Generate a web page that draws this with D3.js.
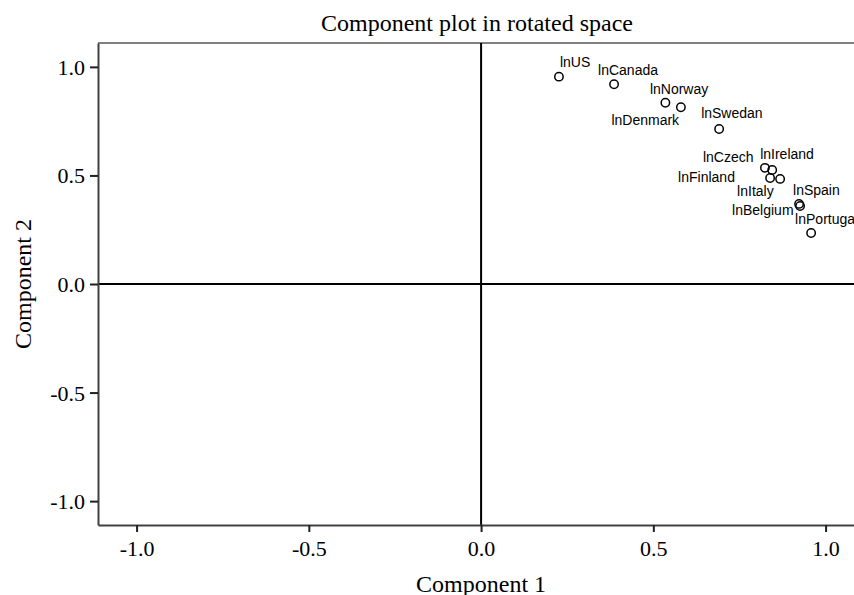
<!DOCTYPE html>
<html>
<head>
<meta charset="utf-8">
<script src="https://cdn.jsdelivr.net/npm/d3@7"></script>
<style>
  html, body { margin: 0; padding: 0; background: #fff; overflow: hidden; }
  svg { display: block; }
</style>
</head>
<body>
<svg id="chart" width="854" height="595"></svg>
<script>
// ---- data ----
const variables = ["lnUS", "lnCanada", "lnNorway", "lnDenmark", "lnSwedan", "lnCzech",
                   "lnIreland", "lnFinland", "lnItaly", "lnSpain", "lnBelgium", "lnPortugal"];
const component1 = [0.226, 0.386, 0.580, 0.535, 0.691, 0.824, 0.845, 0.839, 0.868, 0.923, 0.926, 0.958];
const component2 = [0.955, 0.920, 0.814, 0.835, 0.714, 0.535, 0.525, 0.488, 0.484, 0.369, 0.359, 0.235];
const xTicks = [-1.0, -0.5, 0.0, 0.5, 1.0];
const yTicks = [-1.0, -0.5, 0.0, 0.5, 1.0];
const titleText = "Component plot in rotated space";
const xTitle = "Component 1";
const yTitle = "Component 2";

// ---- layout (label placement offsets, px) ----
const labelOffsets = [
  [1, -10], [-16, -9], [-31, -13], [-54, 22], [-18, -11], [-62, -6],
  [-12, -11], [-92, 4], [-43, 17], [-6, -9], [-68, 9], [-16, -9]
];

(function () {
const svg = d3.select("#chart");
const pLeft = 98, pTop = 43, pBottom = 525;
const x = d3.scaleLinear().domain([-1.112, 1.112]).range([pLeft, pLeft + 2.224 * 344.5]);
const y = d3.scaleLinear().domain([-1.11, 1.11]).range([pBottom, pTop]);
const pRight = x.range()[1];

// top / right border
svg.append("line").attr("x1", pLeft).attr("x2", pRight).attr("y1", pTop).attr("y2", pTop)
  .attr("stroke", "#808080").attr("stroke-width", 2);
svg.append("line").attr("x1", pRight).attr("x2", pRight).attr("y1", pTop).attr("y2", pBottom)
  .attr("stroke", "#808080").attr("stroke-width", 2);

// zero reference lines
svg.append("line").attr("x1", x(0)).attr("x2", x(0)).attr("y1", pTop).attr("y2", pBottom)
  .attr("stroke", "#000").attr("stroke-width", 2);
svg.append("line").attr("x1", pLeft).attr("x2", pRight).attr("y1", y(0)).attr("y2", y(0))
  .attr("stroke", "#000").attr("stroke-width", 2);

// axes
const fmt = d => d.toFixed(1);
const xAxis = svg.append("g").attr("transform", `translate(0,${pBottom})`)
  .call(d3.axisBottom(x).tickValues(xTicks).tickFormat(fmt).tickSizeOuter(0).tickSizeInner(7).tickPadding(7));
const yAxis = svg.append("g").attr("transform", `translate(${pLeft},0)`)
  .call(d3.axisLeft(y).tickValues(yTicks).tickFormat(fmt).tickSizeOuter(0).tickSizeInner(8).tickPadding(5));
[xAxis, yAxis].forEach(g => {
  g.select(".domain").attr("stroke", "#404040").attr("stroke-width", 2);
  g.selectAll(".tick line").attr("stroke", "#202020").attr("stroke-width", 2);
  g.selectAll(".tick text").attr("fill", "#000")
    .style("font-family", "'Liberation Serif', 'Times New Roman', serif").style("font-size", "22px");
});
xAxis.selectAll(".tick text").attr("dy", "0.75em");
yAxis.selectAll(".tick text").attr("dy", "0.34em");

// points
const pts = variables.map((v, i) => ({ name: v, c1: component1[i], c2: component2[i], off: labelOffsets[i] }));
svg.append("g").selectAll("circle").data(pts).join("circle")
  .attr("cx", d => x(d.c1)).attr("cy", d => y(d.c2)).attr("r", 4.2)
  .attr("fill", "none").attr("stroke", "#000").attr("stroke-width", 1.5);
svg.append("g").selectAll("text").data(pts).join("text")
  .attr("x", d => x(d.c1) + d.off[0]).attr("y", d => y(d.c2) + d.off[1])
  .style("font-family", "'Liberation Sans', Arial, sans-serif").style("font-size", "14px")
  .attr("fill", "#000").text(d => d.name);

// titles
svg.append("text").attr("x", 477).attr("y", 31).attr("text-anchor", "middle")
  .style("font-family", "'Liberation Serif', 'Times New Roman', serif").style("font-size", "24px")
  .text(titleText);
svg.append("text").attr("x", x(0)).attr("y", 592).attr("text-anchor", "middle")
  .style("font-family", "'Liberation Serif', 'Times New Roman', serif").style("font-size", "24px")
  .text(xTitle);
svg.append("text").attr("transform", `translate(31,${y(0)}) rotate(-90)`).attr("text-anchor", "middle")
  .style("font-family", "'Liberation Serif', 'Times New Roman', serif").style("font-size", "24px")
  .text(yTitle);
})();
</script>
</body>
</html>
